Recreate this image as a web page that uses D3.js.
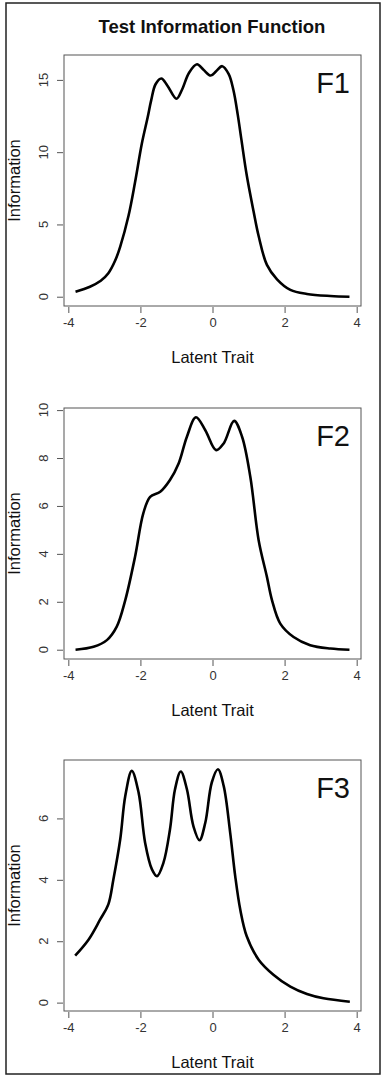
<!DOCTYPE html>
<html>
<head>
<meta charset="utf-8">
<script src="https://cdn.jsdelivr.net/npm/d3@7"></script>
<style>
	body { margin: 0; background: #fff; }
	text { font-family: "Liberation Sans", Arial, sans-serif; }
</style>
</head>
<body>
<script>

// values (latent trait, information)
const f1 = [[-3.8,0.35],[-3.4,0.69],[-3.1,1.1],[-2.89,1.62],[-2.7,2.5],[-2.56,3.47],[-2.33,5.6],[-2.15,7.9],[-1.96,10.6],[-1.8,12.4],[-1.7,13.6],[-1.58,14.7],[-1.42,15.1],[-1.25,14.6],[-1.0,13.7],[-0.85,14.3],[-0.65,15.5],[-0.43,16.08],[-0.25,15.7],[-0.05,15.3],[0.1,15.6],[0.27,15.95],[0.45,15.4],[0.58,14.3],[0.7,12.6],[0.8,10.9],[0.95,8.4],[1.14,5.9],[1.28,4.2],[1.51,2.2],[1.79,1.2],[2.16,0.47],[2.62,0.19],[3.27,0.05],[3.8,0.0]]

const f2 = [[-3.8,0.0],[-3.3,0.12],[-2.93,0.4],[-2.66,0.95],[-2.42,2.07],[-2.15,3.87],[-1.92,5.69],[-1.73,6.38],[-1.45,6.59],[-1.18,7.08],[-0.94,7.77],[-0.71,8.89],[-0.46,9.7],[-0.2,9.16],[0.1,8.33],[0.31,8.61],[0.6,9.55],[0.82,8.89],[1.05,7.21],[1.28,4.57],[1.51,3.04],[1.65,2.07],[1.88,1.09],[2.25,0.53],[2.71,0.19],[3.27,0.05],[3.8,0.0]]

const f3 = [[-3.81,1.53],[-3.44,2.05],[-3.12,2.7],[-2.89,3.2],[-2.75,4.01],[-2.56,5.32],[-2.42,6.73],[-2.24,7.55],[-2.05,6.84],[-1.87,5.21],[-1.68,4.34],[-1.54,4.12],[-1.36,4.56],[-1.18,5.64],[-1.04,6.95],[-0.88,7.53],[-0.71,6.95],[-0.53,5.75],[-0.36,5.29],[-0.2,5.86],[-0.02,7.17],[0.15,7.6],[0.31,7.06],[0.49,5.54],[0.63,4.12],[0.77,3.03],[0.95,2.16],[1.28,1.4],[1.69,0.91],[2.16,0.52],[2.62,0.28],[3.08,0.14],[3.81,0.03]]

const panelNames = ['F1', 'F2', 'F3']
const panelData = [f1, f2, f3]
const xTicks = [-4, -2, 0, 2, 4]
const yTicks = [[0, 5, 10, 15], [0, 2, 4, 6, 8, 10], [0, 2, 4, 6]]

const width = 386, height = 1077
const left = 64, right = 361
const tops = [55, 408, 760]
const boxH = 251

const svg = d3.select('body').append('svg')
	.attr('width', width)
	.attr('height', height)

// outer frame
svg.append('rect')
	.attr('x', 6).attr('y', 3)
	.attr('width', 374).attr('height', 1071)
	.attr('fill', 'none')
	.attr('stroke', '#222')
	.attr('stroke-width', 1.5)

svg.append('text')
	.attr('x', 212).attr('y', 33)
	.attr('text-anchor', 'middle')
	.attr('font-size', '18.5px')
	.attr('font-weight', 'bold')
	.attr('fill', '#111')
	.text('Test Information Function')

const x = d3.scaleLinear().domain([-4.12, 4.12]).range([left, right])

panelData.forEach((data, i) => {

	const top = tops[i]
	const bottom = top + boxH

	// R style: pad the data range by 4%
	const ext = d3.extent(data, d => d[1])
	const pad = (ext[1] - ext[0]) * 0.04
	const y = d3.scaleLinear().domain([ext[0] - pad, ext[1] + pad]).range([bottom, top])

	const g = svg.append('g')

	g.append('rect')
		.attr('x', left).attr('y', top)
		.attr('width', right - left).attr('height', boxH)
		.attr('fill', 'none')
		.attr('stroke', '#555')
		.attr('stroke-width', 1)

	// x axis
	const xAxis = g.append('g')
		.attr('transform', `translate(0,${bottom + 1})`)
		.call(d3.axisBottom(x).tickValues(xTicks).tickSize(6).tickPadding(5).tickFormat(d3.format('d')))
	xAxis.select('.domain').remove()
	xAxis.selectAll('line').attr('stroke', '#555')
	xAxis.selectAll('text')
		.attr('font-size', '13px')
		.attr('font-family', '"Liberation Sans", Arial, sans-serif')
		.attr('fill', '#333')
		.text(d => d < 0 ? '-' + Math.abs(d) : d)

	// y axis, labels turned like R's default
	const yAxis = g.append('g')
		.attr('transform', `translate(${left - 1},0)`)
		.call(d3.axisLeft(y).tickValues(yTicks[i]).tickSize(6).tickFormat(''))
	yAxis.select('.domain').remove()
	yAxis.selectAll('line').attr('stroke', '#555')

	g.selectAll('.ylab')
		.data(yTicks[i])
		.enter()
		.append('text')
		.attr('class', 'ylab')
		.attr('transform', d => `translate(48,${y(d)}) rotate(-90)`)
		.attr('text-anchor', 'middle')
		.attr('font-size', '13px')
		.attr('fill', '#333')
		.text(d => d)

	g.append('text')
		.attr('transform', `translate(20,${(top + bottom) / 2}) rotate(-90)`)
		.attr('text-anchor', 'middle')
		.attr('font-size', '16.5px')
		.attr('fill', '#111')
		.text('Information')

	g.append('text')
		.attr('x', (left + right) / 2)
		.attr('y', bottom + 57)
		.attr('text-anchor', 'middle')
		.attr('font-size', '16.5px')
		.attr('fill', '#111')
		.text('Latent Trait')

	g.append('text')
		.attr('x', 350)
		.attr('y', top + 38)
		.attr('text-anchor', 'end')
		.attr('font-size', '29px')
		.attr('fill', '#111')
		.text(panelNames[i])

	const line = d3.line()
		.x(d => x(d[0]))
		.y(d => y(d[1]))
		.curve(d3.curveCatmullRom.alpha(0.5))

	g.append('path')
		.datum(data)
		.attr('d', line)
		.attr('fill', 'none')
		.attr('stroke', '#000')
		.attr('stroke-width', 2.6)
		.attr('stroke-linejoin', 'round')
})

</script>
</body>
</html>
